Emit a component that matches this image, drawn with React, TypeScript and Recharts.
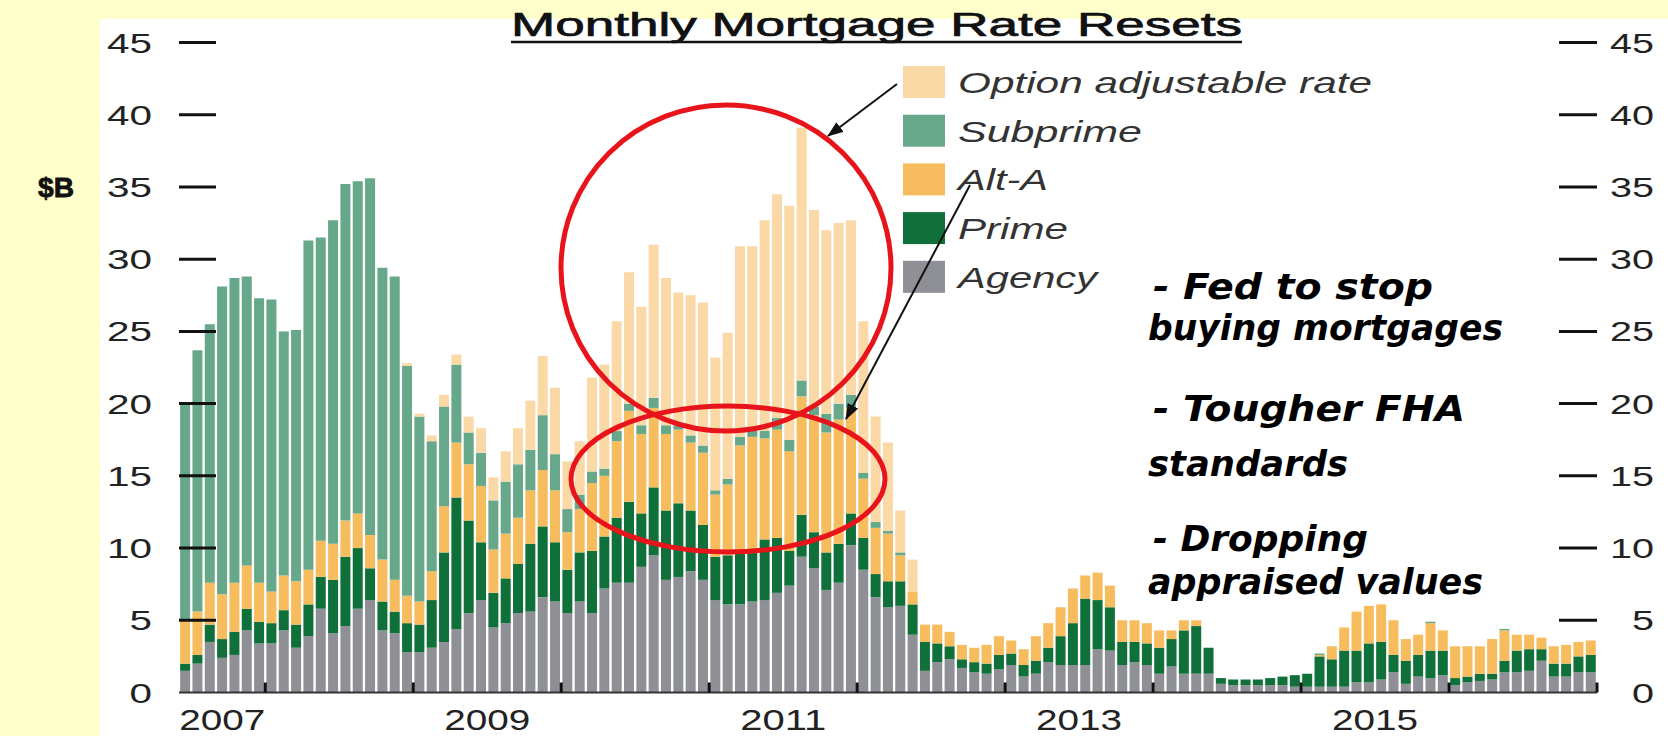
import React from "react";
import { BarChart, Bar, XAxis, YAxis } from "recharts";

// months Jun 2007 .. Dec 2016
const startYear = 2007;
const startMonth = 6;
const monthCount = 115;
const months: string[] = [];
for (let i = 0; i < monthCount; i++) {
  const m = startMonth - 1 + i;
  const y = startYear + Math.floor(m / 12);
  months.push(`${y}-${String((m % 12) + 1).padStart(2, "0")}`);
}

// $B per month, one value per bar segment
const agency = [
  1.5, 2.0, 3.5, 2.4, 2.6, 4.3, 3.4,
  3.4, 4.3, 3.1, 3.9, 5.8, 4.1, 4.6, 5.8, 6.4, 4.3, 4.1, 2.8,
  2.8, 3.1, 3.5, 4.4, 5.5, 6.4, 4.5, 4.8, 5.5, 5.6, 6.6, 6.3,
  5.5, 6.3, 5.5, 7.2, 7.6, 7.6, 8.7, 9.5, 7.8, 8.0, 8.4, 7.8,
  6.4, 6.1, 6.1, 6.3, 6.4, 6.9, 7.4, 9.4, 8.6, 7.1, 7.6, 10.2,
  8.5, 6.6, 5.9, 6.0, 4.0, 1.5, 2.1, 2.3, 1.7, 1.4, 1.3, 1.6,
  1.9, 1.1, 1.3, 2.1, 1.9, 1.9, 1.9, 3.0, 2.9, 1.9, 2.1, 1.9,
  1.3, 1.8, 1.3, 1.3, 1.3, 0.6, 0.5, 0.5, 0.5, 0.5, 0.5, 0.4,
  0.4, 0.4, 0.4, 0.4, 0.7, 0.7, 0.9, 1.4, 0.6, 1.1, 1.0, 1.2,
  0.5, 0.7, 0.8, 0.9, 1.4, 1.4, 1.5, 2.2, 1.1, 1.1, 1.4, 1.4,
];
const prime = [
  0.5, 0.6, 1.2, 1.3, 1.6, 1.5, 1.5,
  1.4, 1.4, 1.6, 2.2, 2.2, 3.7, 4.8, 4.2, 2.2, 2.0, 1.5, 2.0,
  1.9, 3.3, 6.2, 9.1, 6.4, 4.0, 2.4, 3.1, 3.4, 4.7, 4.9, 4.1,
  3.0, 3.4, 4.3, 3.6, 4.5, 5.6, 3.7, 4.7, 4.8, 5.1, 4.2, 3.8,
  3.0, 3.4, 3.7, 3.5, 4.2, 3.8, 2.4, 2.9, 2.5, 2.6, 2.7, 2.2,
  2.2, 1.6, 1.8, 1.7, 2.1, 2.0, 1.3, 0.9, 0.6, 0.7, 0.7, 1.0,
  0.8, 0.8, 0.9, 1.0, 2.0, 2.9, 4.6, 3.4, 3.0, 1.6, 1.4, 1.5,
  1.8, 1.9, 3.0, 3.3, 1.8, 0.4, 0.4, 0.4, 0.4, 0.5, 0.6, 0.8,
  0.9, 2.1, 1.9, 2.5, 2.2, 2.7, 2.6, 1.2, 1.6, 1.5, 1.9, 1.7,
  0.5, 0.4, 0.5, 0.4, 0.8, 1.5, 1.5, 0.8, 0.9, 0.9, 1.1, 1.2,
];
const altA = [
  3.0, 3.0, 2.9, 3.1, 3.4, 3.0, 2.7,
  2.2, 2.4, 3.0, 2.4, 2.5, 2.5, 2.5, 2.4, 2.3, 2.9, 2.2, 1.9,
  1.6, 2.0, 3.2, 3.8, 3.9, 3.9, 3.0, 3.1, 3.2, 3.7, 3.9, 3.6,
  2.6, 3.0, 4.7, 4.2, 5.3, 6.3, 5.5, 5.5, 5.3, 5.1, 4.7, 5.0,
  4.3, 4.9, 7.3, 7.9, 7.0, 7.5, 6.9, 8.2, 8.1, 8.3, 8.6, 7.3,
  4.1, 3.2, 3.3, 1.8, 0.9, 1.2, 1.3, 1.0, 1.0, 1.0, 1.3, 1.3,
  0.9, 1.1, 1.7, 1.7, 2.0, 2.4, 1.6, 1.9, 1.5, 1.5, 1.5, 1.4,
  1.2, 0.6, 0.7, 0.4, 0, 0, 0, 0, 0, 0, 0, 0,
  0, 0.1, 0.9, 1.6, 2.7, 2.6, 2.6, 2.4, 1.5, 1.4, 1.9, 1.4,
  2.2, 2.1, 1.9, 2.4, 2.1, 1.1, 1.0, 0.8, 1.2, 1.3, 1.0, 1.0,
];
const subprime = [
  15.0, 18.1, 17.9, 21.3, 21.1, 20.0, 19.7,
  20.2, 16.9, 17.4, 22.8, 21.0, 22.4, 23.3, 23.0, 24.7, 20.2, 21.0, 15.9,
  12.8, 9.0, 6.9, 5.4, 2.2, 2.3, 3.4, 3.6, 3.7, 2.8, 3.8, 2.5,
  1.6, 1.0, 0.8, 0.5, 0.7, 0.5, 0.6, 0.7, 0.6, 0.3, 0.5, 0.5,
  0.3, 0.4, 0.6, 0.5, 0.5, 0.8, 0.8, 1.1, 0.6, 1.3, 1.1, 0.9,
  0.4, 0.4, 0.2, 0.2, 0, 0, 0, 0, 0, 0, 0, 0,
  0, 0, 0, 0, 0, 0, 0, 0, 0, 0, 0, 0,
  0, 0, 0, 0, 0, 0, 0, 0, 0, 0, 0, 0,
  0, 0.1, 0, 0, 0, 0, 0, 0, 0, 0, 0.1, 0,
  0, 0, 0, 0, 0.1, 0, 0, 0, 0, 0, 0, 0,
];
const optionArm = [
  0, 0, 0, 0, 0, 0, 0,
  0, 0, 0, 0, 0, 0, 0, 0, 0, 0, 0, 0.2,
  0.2, 0.4, 0.8, 0.7, 1.1, 1.7, 1.6, 2.1, 2.5, 3.4, 4.1, 4.6,
  3.3, 3.7, 6.5, 7.2, 7.6, 9.1, 8.2, 10.6, 10.2, 9.2, 9.7, 9.9,
  9.2, 10.1, 13.2, 12.7, 14.6, 15.5, 16.2, 17.5, 13.6, 12.7, 12.5, 12.1,
  10.5, 7.3, 6.1, 2.9, 2.2, 0, 0, 0, 0, 0, 0, 0,
  0, 0, 0, 0, 0, 0, 0, 0, 0, 0, 0, 0,
  0, 0, 0, 0, 0, 0, 0, 0, 0, 0, 0, 0,
  0, 0, 0, 0, 0, 0, 0, 0, 0, 0, 0, 0,
  0, 0, 0, 0, 0, 0, 0, 0, 0, 0, 0, 0,
];

const yTicks = [0, 5, 10, 15, 20, 25, 30, 35, 40, 45];
const labelYears = ["2007", "2009", "2011", "2013", "2015"];

const series = [
  { key: "agency", name: "Agency", color: "#8f9095" },
  { key: "prime", name: "Prime", color: "#0f7139" },
  { key: "altA", name: "Alt-A", color: "#f7bc5e" },
  { key: "subprime", name: "Subprime", color: "#67a88a" },
  { key: "optionArm", name: "Option adjustable rate", color: "#fad9a6" },
];
const legendWidths: Record<string, number> = {
  "Option adjustable rate": 414,
  Subprime: 184,
  "Alt-A": 90,
  Prime: 110,
  Agency: 139,
};

const notes = [
  { text: "- Fed to stop", x: 1153, y: 299, w: 280 },
  { text: "buying mortgages", x: 1148, y: 340, w: 355 },
  { text: "- Tougher FHA", x: 1153, y: 421, w: 312 },
  { text: "standards", x: 1148, y: 476, w: 200 },
  { text: "- Dropping", x: 1153, y: 551, w: 215 },
  { text: "appraised values", x: 1148, y: 594, w: 335 },
];

const chartData = months.map((month, i) => ({
  month,
  agency: agency[i],
  prime: prime[i],
  altA: altA[i],
  subprime: subprime[i],
  optionArm: optionArm[i],
}));

const yearCounts: Record<string, number> = {};
months.forEach((m) => {
  const y = m.slice(0, 4);
  yearCounts[y] = (yearCounts[y] || 0) + 1;
});

const FONT = "'Liberation Sans', Arial, Helvetica, sans-serif";

function LeftTick(props: any) {
  const { x, y, payload } = props;
  const label = String(payload.value);
  return (
    <g>
      {payload.value > 0 && (
        <line x1={x} x2={x + 37} y1={y} y2={y} stroke="#111" strokeWidth={3} />
      )}
      <text
        x={x - 27}
        y={y + 10}
        textAnchor="end"
        fontSize={28}
        fontFamily={FONT}
        fill="#222"
        textLength={label.length * 22.5}
        lengthAdjust="spacingAndGlyphs"
      >
        {label}
      </text>
    </g>
  );
}

function RightTick(props: any) {
  const { x, y, payload } = props;
  const label = String(payload.value);
  return (
    <g>
      {payload.value > 0 && (
        <line x1={x - 38} x2={x} y1={y} y2={y} stroke="#111" strokeWidth={3} />
      )}
      <text
        x={x + 57}
        y={y + 10}
        textAnchor="end"
        fontSize={28}
        fontFamily={FONT}
        fill="#222"
        textLength={label.length * 22}
        lengthAdjust="spacingAndGlyphs"
      >
        {label}
      </text>
    </g>
  );
}

function MonthTick(props: any) {
  const { x, y, payload } = props;
  const value: string = payload.value;
  const idx = months.indexOf(value);
  const bw = payload.offset ? payload.offset * 2 : 1418 / monthCount;
  const year = value.slice(0, 4);
  const mo = Number(value.slice(5));
  const firstOfYear = idx === 0 || months[idx - 1].slice(0, 4) !== year;
  const showYear = firstOfYear && labelYears.includes(year);
  return (
    <g>
      {mo === 12 && (
        <rect x={x + bw / 2 - 1.5} y={y - 10} width={3} height={10} fill="#111" />
      )}
      {showYear && (
        <text
          x={x + ((yearCounts[year] - 1) * bw) / 2}
          y={y + 37}
          textAnchor="middle"
          fontSize={30}
          fontFamily={FONT}
          fill="#222"
          textLength={86}
          lengthAdjust="spacingAndGlyphs"
        >
          {year}
        </text>
      )}
    </g>
  );
}

export default function App() {
  const legendRows = [...series].reverse();
  return (
    <div
      style={{
        position: "absolute",
        left: 0,
        top: 0,
        width: 1668,
        height: 736,
        background: "#ffffcc",
        overflow: "hidden",
        fontFamily: FONT,
      }}
    >
      <div
        style={{
          position: "absolute",
          left: 100,
          top: 19,
          width: 1568,
          height: 717,
          background: "#ffffff",
        }}
      />
      <div style={{ position: "absolute", left: 0, top: 0 }}>
        <BarChart
          width={1668}
          height={736}
          data={chartData}
          margin={{ top: 42.5, right: 11, bottom: 3.5, left: 119 }}
          barCategoryGap="9%"
        >
          {series.map((s) => (
            <Bar
              key={s.key}
              dataKey={s.key}
              name={s.name}
              stackId="a"
              yAxisId="l"
              fill={s.color}
              isAnimationActive={false}
            />
          ))}
          <XAxis
            dataKey="month"
            interval={0}
            height={40}
            tickSize={0}
            tickMargin={0}
            tickLine={false}
            axisLine={{ stroke: "#333", strokeWidth: 2 }}
            tick={(p: any) => <MonthTick {...p} />}
          />
          <YAxis
            yAxisId="l"
            domain={[0, 45]}
            ticks={yTicks}
            interval={0}
            width={60}
            tickSize={0}
            tickMargin={0}
            axisLine={false}
            tickLine={false}
            tick={(p: any) => <LeftTick {...p} />}
          />
          <YAxis
            yAxisId="r"
            orientation="right"
            type="number"
            domain={[0, 45]}
            allowDataOverflow
            ticks={yTicks}
            interval={0}
            width={60}
            tickSize={0}
            tickMargin={0}
            axisLine={false}
            tickLine={false}
            tick={(p: any) => <RightTick {...p} />}
          />
        </BarChart>
      </div>

      <svg
        width={1668}
        height={736}
        style={{ position: "absolute", left: 0, top: 0, pointerEvents: "none" }}
      >
        <defs>
          <marker
            id="head"
            markerWidth={16}
            markerHeight={12}
            refX={15}
            refY={6}
            orient="auto"
            markerUnits="userSpaceOnUse"
          >
            <path d="M0,0 L16,6 L0,12 Z" fill="#111" />
          </marker>
        </defs>

        {/* title */}
        <text
          x={876.5}
          y={36}
          textAnchor="middle"
          fontSize={33}
          fontFamily={FONT}
          fill="#111"
          stroke="#111"
          strokeWidth={0.7}
          textLength={731}
          lengthAdjust="spacingAndGlyphs"
        >
          Monthly Mortgage Rate Resets
        </text>
        <line x1={511} x2={1242} y1={42} y2={42} stroke="#111" strokeWidth={2.5} />

        <text
          x={38}
          y={197}
          fontSize={28}
          fontWeight={900}
          fontFamily={FONT}
          fill="#111"
          stroke="#111"
          strokeWidth={0.8}
          textLength={36}
          lengthAdjust="spacingAndGlyphs"
        >
          $B
        </text>

        {/* legend */}
        {legendRows.map((s, i) => (
          <g key={s.key}>
            <rect x={903} y={66 + i * 48.7} width={42} height={32} fill={s.color} />
            <text
              x={958}
              y={93 + i * 48.7}
              fontSize={30}
              fontStyle="italic"
              fontFamily={FONT}
              fill="#333"
              textLength={legendWidths[s.name]}
              lengthAdjust="spacingAndGlyphs"
            >
              {s.name}
            </text>
          </g>
        ))}

        {/* highlight circles */}
        <ellipse cx={726} cy={268} rx={165} ry={163} fill="none" stroke="#e8141b" strokeWidth={5} />
        <ellipse cx={728} cy={479} rx={157} ry={73} fill="none" stroke="#e8141b" strokeWidth={5} />

        <line x1={897} y1={84} x2={828} y2={136} stroke="#111" strokeWidth={2} markerEnd="url(#head)" />
        <line x1={970} y1={185} x2={846} y2={419} stroke="#111" strokeWidth={2} markerEnd="url(#head)" />

        {notes.map((n) => (
          <text
            key={n.text}
            x={n.x}
            y={n.y}
            fontSize={36}
            fontWeight="bold"
            fontStyle="italic"
            fontFamily="'Comic Sans MS', 'DejaVu Sans', sans-serif"
            fill="#000"
            textLength={n.w}
            lengthAdjust="spacingAndGlyphs"
          >
            {n.text}
          </text>
        ))}
      </svg>
    </div>
  );
}
